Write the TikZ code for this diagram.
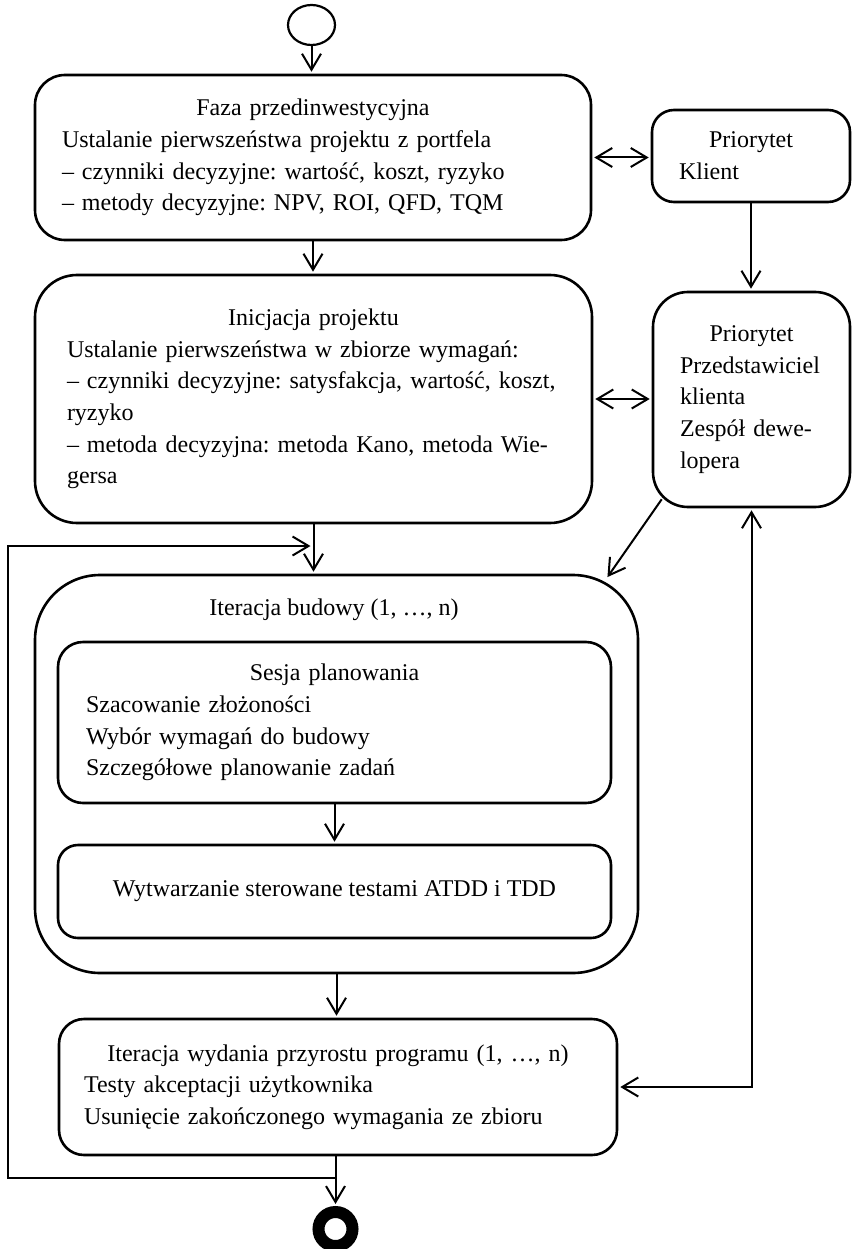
\documentclass[tikz,border=0pt]{standalone}
\usepackage{fontspec}
\setmainfont{Liberation Serif}
\frenchspacing
\usetikzlibrary{arrows.meta,calc,shapes.geometric}

\begin{document}
\begin{tikzpicture}[x=1pt,y=-1pt,font=\fontsize{24}{31.7}\selectfont,
  box/.style={draw,line width=2.6pt,rounded corners=#1,inner xsep=27pt,inner ysep=0pt,align=left},
  arr/.style={line width=2pt,-{Straight Barb[length=16pt,width=19pt]},shorten >=2pt},
  darr/.style={arr,{Straight Barb[length=16pt,width=19pt]}-{Straight Barb[length=16pt,width=19pt]},shorten <=2pt}]
  \useasboundingbox (0,0) rectangle (852,1249);
  \node[draw,ellipse,line width=2.2pt,minimum width=47pt,minimum height=40pt] (start) at (311.5,25) {};
  \node[box=30pt,text width=502pt,minimum height=165pt] (faza) at (313,157.5) {{\centering Faza przedinwestycyjna\par}Ustalanie pierwszeństwa projektu z portfela\\– czynniki decyzyjne: wartość, koszt, ryzyko\\– metody decyzyjne: NPV, ROI, QFD, TQM};
  \node[box=22pt,text width=144pt,minimum height=92pt] (klient) at (751,156) {{\centering Priorytet\par}Klient};
  \node[box=42pt,inner xsep=32pt,text width=493pt,minimum height=248pt] (inicjacja) at (313.5,399) {{\centering Inicjacja projektu\par}Ustalanie pierwszeństwa w zbiorze wymagań:\\– czynniki decyzyjne: satysfakcja, wartość, koszt,\\ryzyko\\– metoda decyzyjna: metoda Kano, metoda Wie-\\gersa};
  \node[box=35pt,text width=143pt,minimum height=215pt] (przedst) at (751.5,399.5) {{\centering Priorytet\par}Przedstawiciel\\klienta\\Zespół dewe-\\lopera};
  \node[box=65pt,minimum width=603pt,minimum height=398pt] (budowa) at (336.5,774) {};
  \node (budowatyt) at (334,610) {Iteracja budowy (1, …, n)};
  \node[box=25pt,inner xsep=28pt,text width=497pt,minimum height=161pt] (sesja) at (334.5,722.5) {{\centering Sesja planowania\par}Szacowanie złożoności\\Wybór wymagań do budowy\\Szczegółowe planowanie zadań};
  \node[box=20pt,align=center,minimum width=553pt,minimum height=93pt] (wytw) at (334.5,891.5) {Wytwarzanie sterowane testami ATDD i TDD};
  \node[box=25pt,inner xsep=25pt,text width=508pt,minimum height=136pt] (wydanie) at (338,1087) {{\centering Iteracja wydania przyrostu programu (1, …, n)\par}Testy akceptacji użytkownika\\Usunięcie zakończonego wymagania ze zbioru};
  \node[draw,circle,line width=12pt,minimum size=34pt] (stop) at (335.5,1229) {};
  \coordinate (petlaa) at (336,1178);
  \coordinate (petlab) at (8,1178);
  \coordinate (petlac) at (8,546);
  \coordinate (petlad) at (313.5,546);
  \draw[arr] (start) -- (start |- faza.north);
  \draw[darr] (faza.east) -- (faza.east -| klient.west);
  \draw[arr] (faza) -- (faza |- inicjacja.north);
  \draw[arr] (klient) -- (klient |- przedst.north);
  \draw[darr] (inicjacja.east) -- (inicjacja.east -| przedst.west);
  \draw[arr] ($(przedst.south west)+(10,-9)$) -- ($(budowa.north east)+(-33,5)$);
  \draw[arr] (inicjacja) -- (inicjacja |- budowa.north);
  \draw[arr] (sesja) -- (wytw);
  \draw[arr] (budowa) -- (budowa |- wydanie.north);
  \draw[darr] (wydanie.east) -| (przedst.south);
  \draw[arr] (stop |- wydanie.south) -- (stop);
  \draw[arr,shorten >=3pt] (petlaa) -- (petlab) -- (petlac) -- (petlad);
\end{tikzpicture}
\end{document}
